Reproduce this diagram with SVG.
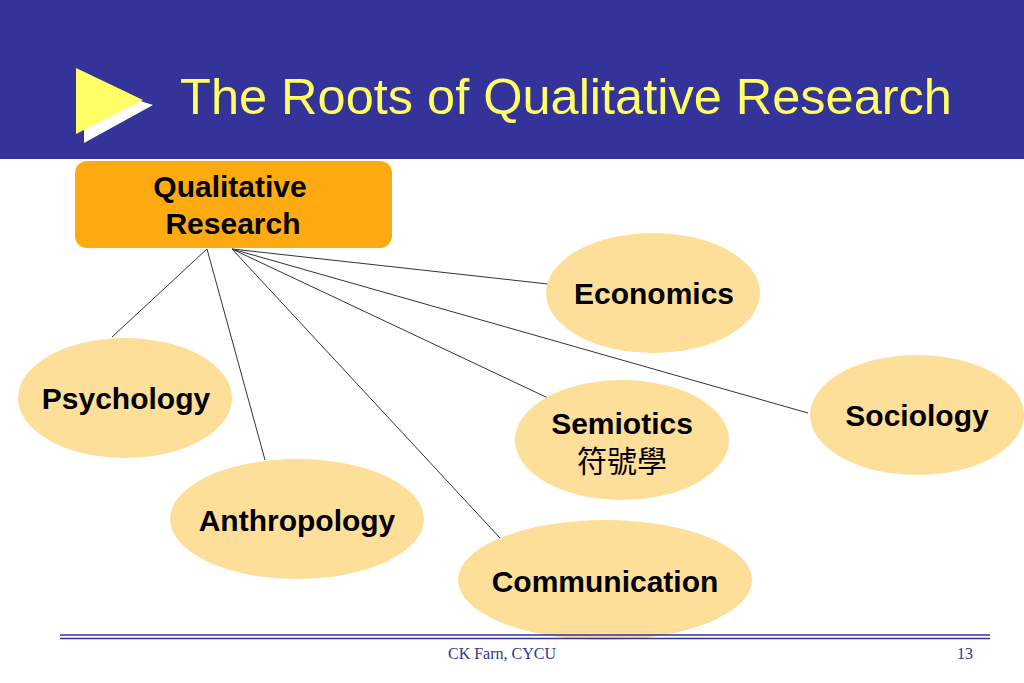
<svg xmlns="http://www.w3.org/2000/svg" width="1024" height="683" viewBox="0 0 1024 683">
<style>
.n{fill:#fddf9a}
.t{font-family:"Liberation Sans",Arial,sans-serif;font-weight:bold;font-size:30px;fill:#000;text-anchor:middle}
#connectors line{stroke:#333;stroke-width:1}
</style>
<rect width="1024" height="683" fill="#fff"/>
<rect x="0" y="0" width="1024" height="159" fill="#333399"/>
<polygon points="84,83 84,143 153,105" fill="#fff"/>
<polygon points="76,68 76,134 143,100" fill="#ffff66"/>
<text x="566" y="114" font-family="Liberation Sans,Arial,sans-serif" font-size="50.5" fill="#ffff66" text-anchor="middle">The Roots of Qualitative Research</text>
<g id="connectors">
<line x1="207" y1="249" x2="112" y2="337"/>
<line x1="207" y1="249" x2="265" y2="460"/>
<line x1="232" y1="249" x2="548" y2="284"/>
<line x1="232" y1="249" x2="808" y2="413"/>
<line x1="232" y1="249" x2="548" y2="398"/>
<line x1="232" y1="249" x2="500" y2="538"/>
</g>
<g id="qr"><rect x="75" y="161" width="317" height="87" rx="12" fill="#ffaa11"/>
<text class="t" x="230" y="197">Qualitative</text><text class="t" x="233" y="234">Research</text></g>
<g id="economics"><ellipse class="n" cx="653" cy="293" rx="107" ry="60"/><text class="t" x="654" y="304">Economics</text></g>
<g id="psychology"><ellipse class="n" cx="125" cy="398" rx="107" ry="60"/><text class="t" x="126" y="409">Psychology</text></g>
<g id="sociology"><ellipse class="n" cx="917" cy="415" rx="107" ry="60"/><text class="t" x="917" y="426">Sociology</text></g>
<g id="semiotics"><ellipse class="n" cx="622" cy="440" rx="107" ry="60"/><text class="t" x="622" y="434">Semiotics</text><text class="t" x="622" y="472" style="font-family:'Noto Sans CJK TC',sans-serif;font-weight:normal">符號學</text></g>
<g id="anthropology"><ellipse class="n" cx="297" cy="519" rx="127" ry="60"/><text class="t" x="297" y="531">Anthropology</text></g>
<g id="communication"><ellipse class="n" cx="605" cy="580" rx="147" ry="60"/><text class="t" x="605" y="592">Communication</text></g>
<line x1="60" y1="635" x2="990" y2="635" stroke="#333399" stroke-width="1.5"/>
<line x1="60" y1="638.5" x2="990" y2="638.5" stroke="#333399" stroke-width="1.5"/>
<text x="502" y="659" font-family="Liberation Serif,serif" font-size="16" fill="#333399" text-anchor="middle">CK Farn, CYCU</text>
<text x="965" y="659" font-family="Liberation Serif,serif" font-size="16" fill="#333399" text-anchor="middle">13</text>
</svg>
